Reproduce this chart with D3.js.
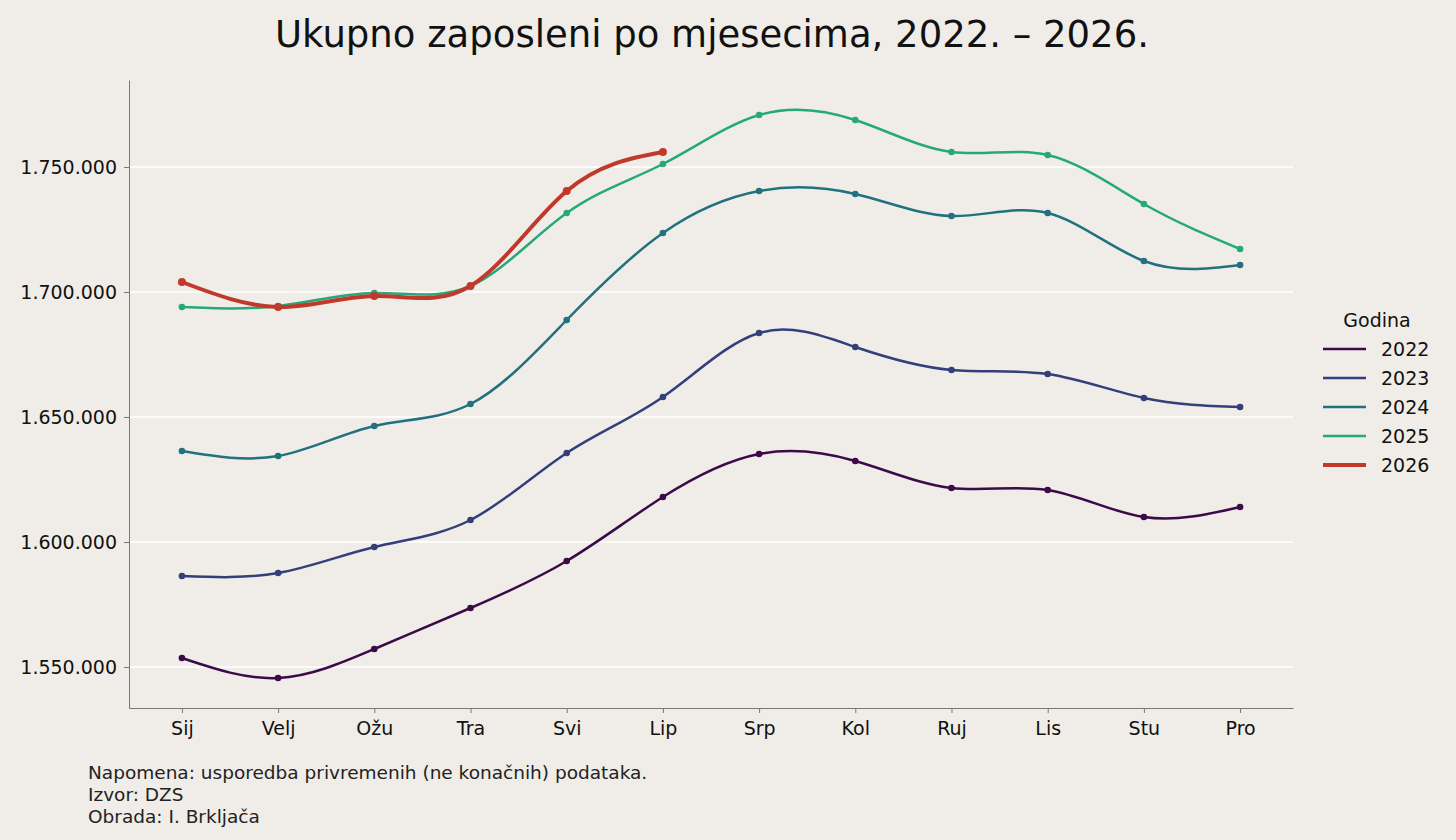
<!DOCTYPE html>
<html><head><meta charset="utf-8">
<script src="https://cdn.jsdelivr.net/npm/d3@7"></script>
<style>body{margin:0;background:#f0ede8;font-family:"DejaVu Sans",sans-serif;}</style>
</head><body><div id="chart"></div>
<script>
const months = ["Sij","Velj","Ožu","Tra","Svi","Lip","Srp","Kol","Ruj","Lis","Stu","Pro"];
const years = ["2022","2023","2024","2025","2026"];
const colors = ["#3b0a48","#323f7a","#21717f","#25a97a","#c0392b"];
const v2022 = [1553600,1545600,1557200,1573600,1592400,1618000,1635200,1632400,1621600,1620800,1610000,1614000];
const v2023 = [1586400,1587600,1598000,1608800,1635600,1658000,1683600,1678000,1668800,1667200,1657600,1654000];
const v2024 = [1636400,1634400,1646400,1655200,1688800,1723600,1740400,1739200,1730400,1731600,1712400,1710800];
const v2025 = [1694000,1694400,1699600,1702400,1731600,1751200,1770800,1768800,1756000,1754800,1735200,1717200];
const v2026 = [1704000,1694000,1698400,1702400,1740400,1756000];
const yTicks = [1550000,1600000,1650000,1700000,1750000];
const series = [v2022,v2023,v2024,v2025,v2026];

const W = 1456, H = 840;
const m = {left:129, right:1293, top:80, bottom:708};
const svg = d3.select("#chart").append("svg").attr("width",W).attr("height",H)
  .style("background","#f0ede8");

const x = d3.scalePoint().domain(months).range([m.left,m.right]).padding(0.55);
const y = d3.scaleLinear().domain([1533600,1784800]).range([m.bottom,m.top]);
const fmt = d => d3.format(",")(d).replace(/,/g,".");

// grid
svg.append("g").selectAll("line").data(yTicks).enter().append("line")
  .attr("x1",m.left).attr("x2",m.right).attr("y1",d=>y(d)).attr("y2",d=>y(d))
  .attr("stroke","#ffffff").attr("stroke-width",1.3);

// axes
const ya = svg.append("g").attr("transform",`translate(${m.left},0)`)
  .call(d3.axisLeft(y).tickValues(yTicks).tickFormat(fmt).tickSize(5).tickSizeOuter(0));
const xa = svg.append("g").attr("transform",`translate(0,${m.bottom})`)
  .call(d3.axisBottom(x).tickSize(5).tickSizeOuter(0));
[ya,xa].forEach(a=>{
  a.select(".domain").attr("stroke","#777");
  a.selectAll(".tick line").attr("stroke","#777");
  a.selectAll("text").attr("font-size",19).attr("fill","#111").attr("font-family","DejaVu Sans");
});
ya.selectAll("text").attr("x",-12);
xa.selectAll("text").attr("dy","1.0em");

const line = d3.line().x((d,i)=>x(months[i])).y(d=>y(d)).curve(d3.curveNatural);
series.forEach((s,k)=>{
  const w = k===4 ? 4 : 2.5;
  svg.append("path").datum(s).attr("d",line).attr("fill","none")
    .attr("stroke",colors[k]).attr("stroke-width",w);
  svg.append("g").selectAll("circle").data(s).enter().append("circle")
    .attr("cx",(d,i)=>x(months[i])).attr("cy",d=>y(d)).attr("r",k===4?4:3.3)
    .attr("fill",colors[k]);
});

// title
svg.append("text").attr("x",712).attr("y",47).attr("text-anchor","middle")
  .attr("font-size",37).attr("fill","#111").text("Ukupno zaposleni po mjesecima, 2022. – 2026.");

// legend
const lg = svg.append("g");
lg.append("text").attr("x",1377).attr("y",327).attr("text-anchor","middle")
  .attr("font-size",19).attr("fill","#111").text("Godina");
years.forEach((yr,i)=>{
  const yy = 349 + i*29;
  lg.append("line").attr("x1",1323).attr("x2",1366).attr("y1",yy).attr("y2",yy)
    .attr("stroke",colors[i]).attr("stroke-width",i===4?4:2.5);
  lg.append("text").attr("x",1381).attr("y",yy+7).attr("font-size",19)
    .attr("fill","#111").text(yr);
});

// notes
const notes = ["Napomena: usporedba privremenih (ne konačnih) podataka.","Izvor: DZS","Obrada: I. Brkljača"];
svg.append("g").selectAll("text").data(notes).enter().append("text")
  .attr("x",88).attr("y",(d,i)=>779+i*22).attr("font-size",18.5).attr("fill","#222").text(d=>d);
</script></body></html>
